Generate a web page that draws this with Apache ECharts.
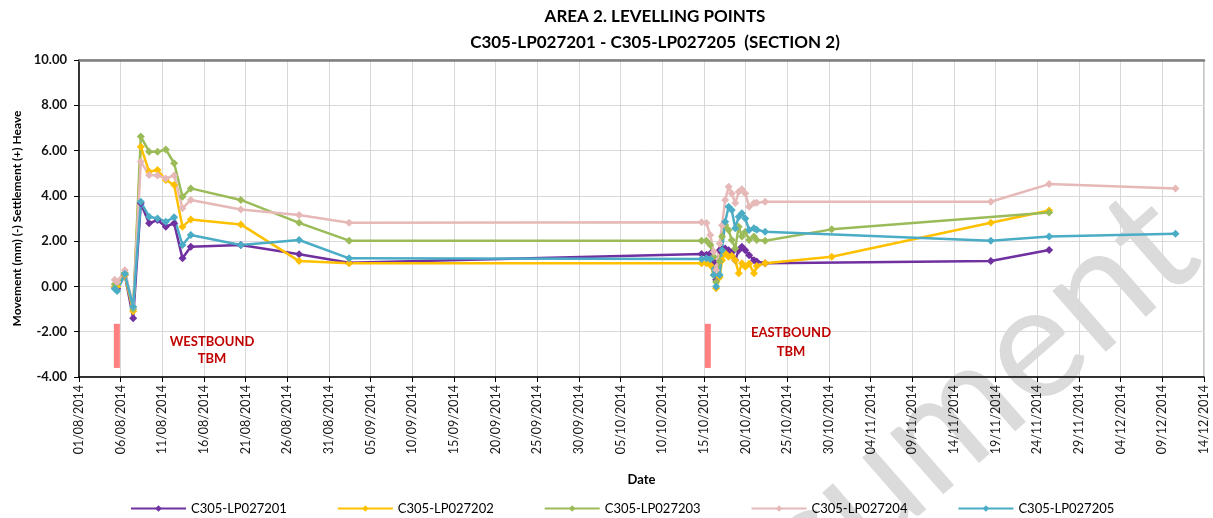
<!DOCTYPE html>
<html>
<head>
<meta charset="utf-8">
<title>Area 2. Levelling Points</title>
<script src="https://cdn.jsdelivr.net/npm/echarts@6/dist/echarts.min.js"></script>
<style>
  html, body { margin: 0; padding: 0; background: #fff; }
  #chart { width: 1213px; height: 518px; }
</style>
</head>
<body>
<div id="chart"></div>
<script>
// survey dates, shared by the five levelling points
const dates = [
  '2014-08-05 07:00', '2014-08-05 14:00', '2014-08-06 12:00', '2014-08-07 12:00',
  '2014-08-08 10:00', '2014-08-09 10:00', '2014-08-10 10:00', '2014-08-11 10:00',
  '2014-08-12 10:00', '2014-08-13 10:00', '2014-08-14 10:00', '2014-08-20 10:00',
  '2014-08-27 10:00', '2014-09-02 10:00', '2014-10-14 17:00', '2014-10-15 07:00',
  '2014-10-15 18:00', '2014-10-16 04:00', '2014-10-16 11:00', '2014-10-16 21:00',
  '2014-10-17 04:00', '2014-10-17 13:00', '2014-10-17 23:00', '2014-10-18 08:00',
  '2014-10-18 18:00', '2014-10-19 04:00', '2014-10-19 13:00', '2014-10-19 23:00',
  '2014-10-20 10:00', '2014-10-21 00:00', '2014-10-21 08:00', '2014-10-22 08:00',
  '2014-10-30 08:00', '2014-11-18 10:00', '2014-11-25 10:00', '2014-12-10 14:00'
];

// movement in mm, null = not surveyed that day
const lp201 = [-0.05, -0.1, 0.5, -1.4, 3.67, 2.79, 2.93, 2.64, 2.79, 1.24, 1.75, 1.83,
  1.42, 1.05, 1.43, 1.4, 1.45, 1.09, 0.3, 1.6, 1.62, 1.68, 1.6, 1.5,
  1.16, 1.6, 1.75, 1.6, 1.38, 1.16, 1.1, 1.02, null, 1.12, 1.61, null];
const lp202 = [-0.05, 0.0, 0.5, -1.1, 6.17, 5.07, 5.14, 4.7, 4.48, 2.64, 2.96, 2.74,
  1.12, 1.02, 1.02, 1.02, 0.95, 0.5, -0.08, 0.4, 1.16, 1.46, 1.31, 1.35,
  1.16, 0.58, 1.02, 0.87, 1.0, 0.58, 0.9, 1.02, 1.31, 2.81, 3.35, null];
const lp203 = [0.1, 0.15, 0.6, -1.0, 6.62, 5.95, 5.95, 6.05, 5.44, 3.96, 4.33, 3.82,
  2.81, 2.02, 2.02, 2.02, 1.83, 1.31, 0.2, 1.1, 2.2, 2.71, 2.49, 2.05,
  1.68, 2.64, 2.2, 2.42, 2.05, 2.2, 2.05, 2.02, 2.52, null, 3.26, null];
const lp204 = [0.3, 0.2, 0.72, -0.9, 5.51, 4.92, 4.9, 4.77, 4.9, 3.45, 3.82, 3.4,
  3.15, 2.81, 2.83, 2.8, 2.27, 1.53, 0.72, 1.9, 2.7, 3.82, 4.4, 4.1,
  3.68, 4.18, 4.29, 4.1, 3.52, 3.68, 3.7, 3.74, null, 3.74, 4.52, 4.33];
const lp205 = [-0.1, -0.2, 0.55, -0.9, 3.74, 3.08, 3.0, 2.86, 3.05, 1.83, 2.27, 1.83,
  2.05, 1.24, 1.21, 1.24, 1.2, 0.5, 0.0, 0.5, 1.6, 2.86, 3.52, 3.37,
  2.57, 3.08, 3.23, 3.0, 2.49, 2.57, 2.5, 2.42, null, 2.02, 2.21, 2.33];

const seriesNames = ['C305-LP027201', 'C305-LP027202', 'C305-LP027203', 'C305-LP027204', 'C305-LP027205'];
const seriesColors = ['#7030a0', '#ffc000', '#9bbb59', '#e6b9b8', '#4bacc6'];

// TBM passing markers
const tbmDates = ['2014-08-05 13:00', '2014-10-15 11:00'];
const tbmRange = [-1.65, -3.6];

const DAY = 86400000;
const day0 = Date.UTC(2014, 7, 1);
const dayEnd = Date.UTC(2014, 11, 14);

function toDay(s) {
  const [d, t] = s.split(' ');
  const [y, m, dd] = d.split('-').map(Number);
  const [hh, mm] = (t || '00:00').split(':').map(Number);
  return (Date.UTC(y, m - 1, dd, hh, mm) - day0) / DAY;
}
function dayLabel(v) {
  const dt = new Date(day0 + Math.round(v) * DAY);
  const p = n => String(n).padStart(2, '0');
  return p(dt.getUTCDate()) + '/' + p(dt.getUTCMonth() + 1) + '/' + dt.getUTCFullYear();
}

const FONT = 'Lato, "Open Sans", sans-serif';
const chart = echarts.init(document.getElementById('chart'));

const points = [lp201, lp202, lp203, lp204, lp205];
const series = points.map((vals, i) => ({
  name: seriesNames[i],
  type: 'line',
  data: dates.map((d, j) => [toDay(d), vals[j]]).filter(p => p[1] !== null),
  symbol: 'diamond',
  symbolSize: 8,
  lineStyle: { width: 2.5, color: seriesColors[i] },
  itemStyle: { color: seriesColors[i] },
  z: 3
}));

tbmDates.forEach((d, i) => {
  series.push({
    name: 'tbm' + i,
    type: 'line',
    data: [[toDay(d), tbmRange[0]], [toDay(d), tbmRange[1]]],
    symbol: 'none',
    silent: true,
    lineStyle: { width: 6, color: '#ff8080', cap: 'butt' },
    z: 2
  });
});

const option = {
  animation: false,
  backgroundColor: '#fff',
  title: {
    text: 'AREA 2. LEVELLING POINTS\nC305-LP027201 - C305-LP027205  (SECTION 2)',
    left: 650,
    top: -1,
    textAlign: 'center',
    textStyle: { fontFamily: FONT, fontSize: 17, fontWeight: 'bold', color: '#000', lineHeight: 26 }
  },
  legend: {
    data: seriesNames,
    left: 125,
    top: 497,
    itemWidth: 55,
    itemHeight: 8,
    itemGap: 50,
    selectedMode: false,
    textStyle: { fontFamily: FONT, fontSize: 13, color: '#000' }
  },
  grid: {
    left: 79, right: 9, top: 60, bottom: 141,
    show: true, borderColor: '#8c8c8c', borderWidth: 1
  },
  xAxis: [{
    type: 'value',
    min: 0,
    max: (dayEnd - day0) / DAY,
    interval: 5,
    name: 'Date',
    nameLocation: 'middle',
    nameGap: 96,
    nameTextStyle: { fontFamily: FONT, fontSize: 13, fontWeight: 'bold', color: '#000' },
    axisLine: { onZero: false, lineStyle: { color: '#000', width: 1.5 } },
    axisTick: { show: true, length: 5, lineStyle: { color: '#000' } },
    axisLabel: { rotate: 90, margin: 8, fontFamily: FONT, fontSize: 12.5, color: '#1a1a1a', formatter: dayLabel },
    splitLine: { show: true, lineStyle: { color: '#d9d9d9', width: 1 } }
  }, {
    type: 'value',
    position: 'top',
    min: 0,
    max: (dayEnd - day0) / DAY,
    axisLine: { show: true, onZero: false, lineStyle: { color: '#7f7f7f', width: 2.5 } },
    axisTick: { show: false },
    axisLabel: { show: false },
    splitLine: { show: false }
  }],
  yAxis: {
    type: 'value',
    min: -4,
    max: 10,
    interval: 2,
    name: 'Movement (mm) (-) Settlement (+) Heave',
    nameLocation: 'middle',
    nameGap: 52,
    nameTextStyle: { fontFamily: FONT, fontSize: 12, fontWeight: 'bold', color: '#000' },
    axisLine: { show: true, lineStyle: { color: '#000', width: 1.5 } },
    axisTick: { show: true, length: 5, lineStyle: { color: '#000' } },
    axisLabel: { margin: 12, fontFamily: FONT, fontSize: 13, fontWeight: 'bold', color: '#111',
      formatter: v => v.toFixed(2) },
    splitLine: { show: true, lineStyle: { color: '#d9d9d9', width: 1 } }
  },
  graphic: [
    {
      type: 'text', x: 212, y: 350, z: 10,
      style: { text: 'WESTBOUND\nTBM', align: 'center', verticalAlign: 'middle',
        textAlign: 'center', textVerticalAlign: 'middle', lineHeight: 17,
        font: 'bold 13px ' + FONT, fill: '#c00000' }
    },
    {
      type: 'text', x: 791, y: 342, z: 10,
      style: { text: 'EASTBOUND\nTBM', align: 'center', verticalAlign: 'middle',
        textAlign: 'center', textVerticalAlign: 'middle', lineHeight: 19,
        font: 'bold 13px ' + FONT, fill: '#c00000' }
    },
    {
      // watermark
      type: 'text', x: 895, y: 468, rotation: 0.72, z: 0, silent: true,
      style: { text: 'Document', align: 'center', verticalAlign: 'middle',
        textAlign: 'center', textVerticalAlign: 'middle',
        font: '160px ' + FONT, fill: 'rgba(190,190,190,0.55)' }
    }
  ],
  series: series
};

chart.setOption(option);
</script>
</body>
</html>
